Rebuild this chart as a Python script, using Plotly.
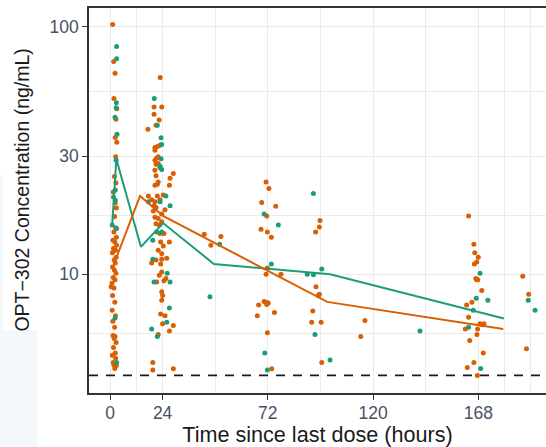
import math
import plotly.graph_objects as go

# Observed concentrations by arm (time since last dose in hours, concentration in ng/mL)
orange_time = [1.2, 1.7, 2.3, 1.8, 3.1, 2.7, 2.4, 3.1, 2.6, 2.7, 1.5, 2.0,
               2.4, 2.9, 2.1, 2.6, 1.8, 2.9, 1.4, 2.2, 3.0, 1.6, 2.5, 1.1, 2.8, 1.9,
               2.4, 1.2, 2.0, 2.7, 1.5, 2.3, 0.9, 1.8, 1.2, 2.2, 1.0, 2.5, 1.3, 2.1,
               1.4, 2.3, 1.9, 2.8, 1.6, 2.4, 1.1, 2.6, 1.8, 2.9, 2.2, 1.5, 0.5,
               22.9, 20.1, 23.6, 20.1, 22.4, 21.0, 17.3, 20.5, 21.6, 22.8, 20.5, 22.0,
               21.3, 20.5, 22.0, 21.0, 22.8, 20.5, 28.9, 21.0, 27.4, 22.0, 20.5, 21.6,
               27.1, 17.5, 21.6, 24.3, 19.0, 22.8, 20.5, 20.1, 21.0, 19.8, 25.1, 20.5,
               22.0, 23.6, 21.0, 22.5, 23.6, 22.8, 24.6, 23.1, 24.3, 27.1, 22.0, 23.6,
               21.0, 19.0, 23.6, 25.9, 23.1, 23.6, 22.5, 25.5, 21.3, 24.6, 23.6, 24.0,
               23.6, 23.1, 25.1, 24.0, 28.9, 27.1, 22.0, 19.5, 19.5, 28.9,
               43.0, 46.0, 50.6,
               71.2, 72.5, 69.2, 75.6, 71.5, 68.9, 71.8, 73.6, 71.8, 71.2, 78.0, 70.3,
               71.2, 72.2, 71.5, 67.8, 67.2, 75.0, 71.8, 73.8,
               95.8, 95.5, 93.8, 94.0, 95.0, 95.5, 92.5, 92.0, 96.3, 96.6,
               116.3, 114.4,
               163.6, 166.0, 166.4, 168.0, 167.3, 166.2, 167.3, 167.8, 166.9, 169.6,
               165.1, 162.7, 163.6, 168.8, 170.6, 169.9, 167.7, 162.1, 167.4, 164.1,
               170.3, 166.0, 163.0, 167.6,
               188.3, 191.0, 190.0]
orange_conc = [102, 72.4, 64.9, 51.3, 46.6, 42.3, 35.7, 34.1, 29.8, 23.4, 21.5, 24.8,
               19.4, 18.5, 17.1, 15.4, 14.8, 14.1, 13.7, 13.5, 13.1, 12.7, 12.5, 12.2, 11.7, 11.4,
               11.1, 10.7, 10.4, 10.1, 9.7, 9.5, 9.2, 8.8, 8.2, 7.7, 7.15, 6.8, 6.45, 6.1,
               5.66, 5.6, 5.5, 5.3, 5.06, 4.8, 4.7, 4.57, 4.3, 4.28, 4.16, 4.4, 8.9,
               62.3, 47.4, 47.4, 44.3, 42.0, 40.0, 38.5, 32.5, 32.8, 33.2, 31.7, 29.8,
               29.5, 28.9, 28.0, 27.8, 27.0, 26.3, 25.5, 25.0, 24.4, 23.6, 22.9, 23.1,
               22.9, 20.7, 20.7, 20.9, 20.0, 20.0, 19.6, 18.9, 18.6, 18.0, 18.2, 17.0,
               16.8, 17.5, 16.0, 15.8, 16.3, 14.6, 14.6, 13.5, 13.0, 13.5, 12.5, 12.1,
               11.4, 11.1, 11.5, 11.6, 11.0, 10.2, 9.9, 9.6, 9.3, 9.4, 8.5, 8.2,
               7.85, 6.9, 6.8, 6.3, 6.2, 5.9, 5.7, 4.4, 4.1, 4.15,
               14.5, 13.1, 14.2,
               23.6, 22.2, 19.5, 18.8, 17.2, 15.2, 14.8, 14.1, 10.6, 10.0, 10.0, 7.75,
               7.7, 7.65, 7.55, 7.5, 6.8, 7.0, 5.8, 4.15,
               16.5, 15.5, 14.8, 8.9, 8.2, 8.3, 7.1, 6.4, 6.4, 4.4,
               6.5, 5.6,
               17.2, 13.2, 12.2, 11.7, 11.2, 11.0, 9.5, 9.5, 9.6, 8.6,
               7.7, 7.5, 6.7, 6.3, 6.3, 6.25, 6.0, 6.0, 5.7, 5.4,
               4.8, 4.4, 4.2, 3.9,
               9.8, 8.3, 5.0]

green_time = [3.0, 3.0, 2.9, 2.8, 2.3, 3.2, 2.8, 2.4, 1.0, 3.0, 2.4, 2.3, 3.0, 1.6,
              20.2, 21.6, 23.3, 23.6, 23.3, 22.8, 23.6, 25.5, 17.5, 22.8, 27.4, 21.3,
              23.6, 19.5, 19.5, 26.1, 27.4, 20.1, 27.1, 25.9, 19.0, 21.6,
              50.0, 45.6,
              70.3, 76.8, 73.6, 70.6, 71.8,
              92.8, 96.6, 90.0, 92.8, 93.5, 100.4,
              141.4,
              168.8, 167.1, 172.4, 165.7, 163.6, 169.1,
              190.8, 193.9]
green_conc = [83.2, 74.3, 49.3, 47.0, 43.1, 36.8, 28.9, 21.9, 15.8, 15.3, 19.9, 6.65, 4.4, 20.5,
              51.3, 40.0, 35.6, 33.4, 29.3, 27.3, 26.5, 20.7, 19.6, 19.6, 18.9, 14.8,
              14.8, 13.7, 11.5, 10.1, 9.3, 9.3, 7.3, 6.4, 6.0, 5.6,
              13.2, 8.1,
              17.5, 15.8, 11.0, 4.8, 4.1,
              21.2, 10.5, 10.0, 9.95, 5.7, 4.5,
              5.9,
              10.1, 8.0, 7.85, 7.15, 6.1, 4.16,
              7.85, 7.15]

# Summary profiles per arm
green_line_time = [1.0, 2.9, 14.1, 24.2, 47.4, 72.0, 100.4, 179.7]
green_line_conc = [15.8, 29.2, 12.9, 16.1, 11.0, 10.5, 10.0, 6.62]
orange_line_time = [1.8, 13.7, 24.2, 99.1, 179.4]
orange_line_conc = [11.0, 20.7, 17.2, 7.73, 6.0]

lloq = 3.9

x_breaks = [0, 24, 72, 120, 168]
y_breaks = [10, 30, 100]

ORANGE = "#D95F02"
GREEN = "#1B9E77"
GRID = "#EBEBEB"
FONT = "Liberation Sans, Arial, sans-serif"
TICK_COLOR = "#4A5068"

# minor gridlines halfway between breaks (extended by one step at each end)
xb = [x_breaks[0] - 24] + x_breaks + [x_breaks[-1] + 24]
x_minor = [(a + b) / 2 for a, b in zip(xb[:-1], xb[1:])] + [xb[-1]]
lb = [math.log10(v) for v in y_breaks]
step = lb[1] - lb[0]
lbe = [lb[0] - step] + lb
y_minor = [10 ** ((a + b) / 2) for a, b in zip(lbe[:-1], lbe[1:])] + [10 ** lbe[0]]

fig = go.Figure()

fig.add_trace(go.Scatter(x=orange_time, y=orange_conc, mode="markers",
                         marker=dict(color=ORANGE, size=5), showlegend=False))
fig.add_trace(go.Scatter(x=green_time, y=green_conc, mode="markers",
                         marker=dict(color=GREEN, size=5), showlegend=False))
fig.add_trace(go.Scatter(x=green_line_time, y=green_line_conc, mode="lines",
                         line=dict(color=GREEN, width=2), showlegend=False))
fig.add_trace(go.Scatter(x=orange_line_time, y=orange_line_conc, mode="lines",
                         line=dict(color=ORANGE, width=2), showlegend=False))

fig.add_hline(y=lloq, line=dict(color="#1a1a1a", width=1.8, dash="9px,8px"))

# pale panel behind the lower-left corner of the page
for x0, x1, y0, y1 in [(-0.1947, -0.1138, -0.1403, 0.1636),
                       (-0.1947, -0.1882, 0.1636, 0.5662)]:
    fig.add_shape(type="rect", xref="paper", yref="paper", x0=x0, x1=x1, y0=y0, y1=y1,
                  fillcolor="#F3F8FC", line=dict(width=0), layer="below")

# y-axis title
fig.add_annotation(text="OPT\u2212302 Concentration (ng/mL)", textangle=-90,
                   xref="paper", yref="paper", x=-0.1455, y=0.527,
                   xanchor="center", yanchor="middle", showarrow=False,
                   font=dict(size=19.5, color="#1a1a1a", family=FONT))

fig.update_layout(
    width=546, height=447,
    margin=dict(l=89, r=0, t=8, b=54),
    paper_bgcolor="white", plot_bgcolor="white",
    font=dict(family=FONT, color="#1a1a1a"),
    xaxis=dict(
        range=[-9.58, 198.9], tickvals=x_breaks, ticktext=[str(v) for v in x_breaks],
        showgrid=True, gridcolor=GRID, gridwidth=1.3, zeroline=False,
        showline=True, linecolor="#333333", linewidth=1.6, mirror=True,
        ticks="outside", ticklen=5, tickwidth=1.4, tickcolor="#333333",
        tickfont=dict(size=17.5, color=TICK_COLOR, family=FONT),
        ticklabelstandoff=-2,
        minor=dict(tickvals=x_minor, showgrid=True, gridcolor=GRID, gridwidth=1.3, ticks=""),
        title=dict(text="Time since last dose (hours)", font=dict(size=21.6, color="#1a1a1a"),
                   standoff=4),
    ),
    yaxis=dict(
        type="log", range=[0.52, 2.0756], tickvals=y_breaks, ticktext=[str(v) for v in y_breaks],
        showgrid=True, gridcolor=GRID, gridwidth=1.3, zeroline=False,
        showline=True, linecolor="#333333", linewidth=1.6,
        ticks="outside", ticklen=5, tickwidth=1.4, tickcolor="#333333",
        tickfont=dict(size=17.5, color=TICK_COLOR, family=FONT),
        minor=dict(tickvals=y_minor, showgrid=True, gridcolor=GRID, gridwidth=1.3, ticks=""),
    ),
)

fig.write_html("out.html")
